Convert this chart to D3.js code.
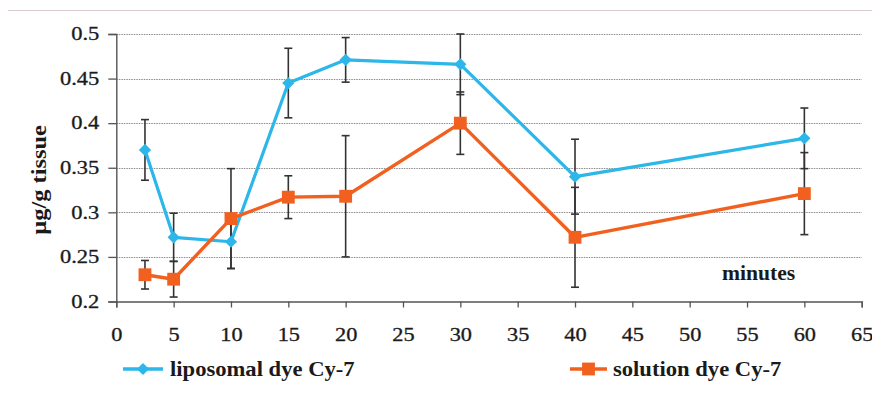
<!DOCTYPE html>
<html>
<head>
<meta charset="utf-8">
<script src="https://cdn.jsdelivr.net/npm/d3@7"></script>
<style>
  html, body { margin: 0; padding: 0; background: #fff; }
  svg { display: block; }
  text { font-family: "Liberation Serif", "Times New Roman", serif; fill: #1a1a1a; }
</style>
</head>
<body>
<svg id="chart" width="872" height="401"></svg>
<script>
// Sampling times (minutes)
const minutes = [2.5, 5, 10, 15, 20, 30, 40, 60];
// Tissue concentration, µg/g, with standard deviations
const liposomal    = [0.370, 0.272, 0.267, 0.445, 0.471, 0.466, 0.340, 0.383];
const liposomalErr = [0.034, 0.027, 0.030, 0.039, 0.025, 0.034, 0.042, 0.034];
const solution     = [0.230, 0.225, 0.293, 0.317, 0.318, 0.400, 0.272, 0.321];
const solutionErr  = [0.016, 0.020, 0.056, 0.024, 0.068, 0.035, 0.056, 0.046];

const seriesNames = ["liposomal dye Cy-7", "solution dye Cy-7"];
const xTicks = d3.range(0, 66, 5);
const yTicks = [0.2, 0.25, 0.3, 0.35, 0.4, 0.45, 0.5];

const BLUE = "#2cb6e9";
const ORANGE = "#f2601f";
const BAR = "#333333";

const svg = d3.select("#chart");

// Stretch a text element horizontally by a factor
function widen(sel, factor) {
  sel.each(function () {
    const w = this.getComputedTextLength();
    d3.select(this).attr("textLength", w * factor).attr("lengthAdjust", "spacingAndGlyphs");
  });
}

const x = d3.scaleLinear().domain([0, 65]).range([116.3, 861.7]);
const y = d3.scaleLinear().domain([0.2, 0.5]).range([301.5, 34]);

// frame line along the top
svg.append("line")
  .attr("x1", 8).attr("x2", 872).attr("y1", 10.5).attr("y2", 10.5)
  .attr("stroke", "#d9cccc").attr("stroke-width", 1.2);

// horizontal dotted gridlines
svg.append("g").selectAll("line")
  .data(yTicks.filter(d => d > 0.2))
  .join("line")
  .attr("x1", x(0)).attr("x2", x(65))
  .attr("y1", d => Math.round(y(d)) + 0.5).attr("y2", d => Math.round(y(d)) + 0.5)
  .attr("stroke", "#8c8c8c").attr("stroke-width", 1)
  .attr("stroke-dasharray", "1.5,1");

// axes
const yAxis = svg.append("g")
  .attr("transform", `translate(${x(0)},0)`)
  .call(d3.axisLeft(y).tickValues(yTicks).tickFormat(d3.format("~g")).tickSize(8).tickPadding(9));
const xAxis = svg.append("g")
  .attr("transform", `translate(0,${y(0.2)})`)
  .call(d3.axisBottom(x).tickValues(xTicks).tickSize(6).tickPadding(21));

[yAxis, xAxis].forEach(g => {
  g.attr("font-family", null).attr("font-size", null);
  g.select(".domain").attr("stroke", "#555").attr("stroke-width", 1.4);
  g.selectAll(".tick line").attr("stroke", "#555").attr("stroke-width", 1.3);
  g.selectAll(".tick text")
    .style("font-family", '"Liberation Serif", serif')
    .style("font-size", "18px")
    .attr("fill", "#222").attr("stroke", "#222").attr("stroke-width", 0.3);
});
yAxis.selectAll(".tick text").call(widen, 1.25);
xAxis.selectAll(".tick text").call(widen, 1.24);

// error bars
function errorBars(vals, errs) {
  const g = svg.append("g").attr("stroke", BAR).attr("stroke-width", 1.6);
  minutes.forEach((m, i) => {
    const cx = x(m), top = y(vals[i] + errs[i]), bot = y(vals[i] - errs[i]);
    g.append("line").attr("x1", cx).attr("x2", cx).attr("y1", top).attr("y2", bot);
    g.append("line").attr("x1", cx - 4).attr("x2", cx + 4).attr("y1", top).attr("y2", top);
    g.append("line").attr("x1", cx - 4).attr("x2", cx + 4).attr("y1", bot).attr("y2", bot);
  });
}
errorBars(liposomal, liposomalErr);
errorBars(solution, solutionErr);

const diamond = d3.symbol().type(d3.symbolDiamond2).size(95);
const square = d3.symbol().type(d3.symbolSquare2).size(210);

function drawSeries(vals, color, width, sym) {
  const pts = minutes.map((m, i) => [m, vals[i]]);
  svg.append("path")
    .datum(pts)
    .attr("fill", "none").attr("stroke", color).attr("stroke-width", width)
    .attr("stroke-linejoin", "round")
    .attr("d", d3.line().x(d => x(d[0])).y(d => y(d[1])));
  svg.append("g").selectAll("path")
    .data(pts).join("path")
    .attr("transform", d => `translate(${x(d[0])},${y(d[1])})`)
    .attr("d", sym).attr("fill", color);
}
drawSeries(liposomal, BLUE, 3.2, diamond);
drawSeries(solution, ORANGE, 3.4, square);

// axis titles
svg.append("text")
  .attr("transform", "translate(46,180) rotate(-90)")
  .attr("text-anchor", "middle")
  .style("font-size", "20px").style("font-weight", "bold")
  .text("µg/g tissue")
  .call(widen, 1.22);

svg.append("text")
  .attr("x", 722).attr("y", 280)
  .style("font-size", "20px").style("font-weight", "bold")
  .text("minutes")
  .call(widen, 1.08);

// legend
const legend = [
  { name: seriesNames[0], color: BLUE, sym: diamond, x0: 123, x1: 163, tx: 170 },
  { name: seriesNames[1], color: ORANGE, sym: square, x0: 570, x1: 607, tx: 613 }
];
legend.forEach(l => {
  const g = svg.append("g");
  g.append("line").attr("x1", l.x0).attr("x2", l.x1).attr("y1", 369).attr("y2", 369)
    .attr("stroke", l.color).attr("stroke-width", 3.4);
  g.append("path").attr("transform", `translate(${(l.x0 + l.x1) / 2},369)`)
    .attr("d", l.sym).attr("fill", l.color);
  g.append("text").attr("x", l.tx).attr("y", 376)
    .style("font-size", "20px").style("font-weight", "bold")
    .text(l.name)
    .call(widen, 1.13);
});
</script>
</body>
</html>
